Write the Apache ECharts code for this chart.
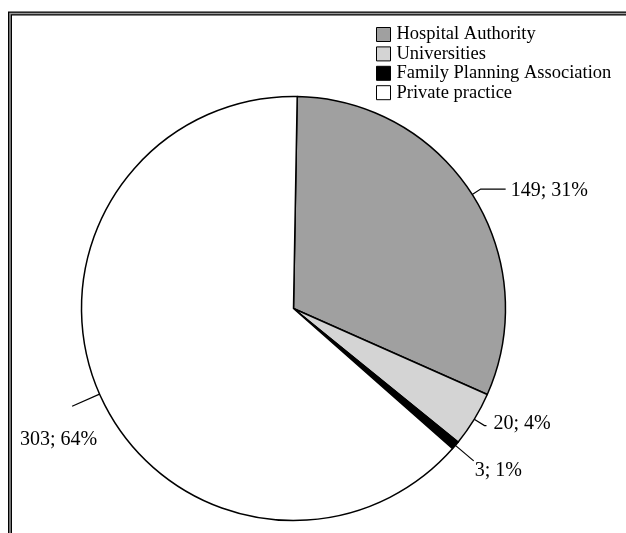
<!DOCTYPE html>
<html>
  <head>
    <meta charset="UTF-8">
    <title>Pie</title>
    <script src="https://cdn.jsdelivr.net/npm/echarts@6/dist/echarts.min.js"></script>
    <style type="text/css">
      * {margin: 0; padding: 0;}
      html, body {background: #fff;}
    </style>
  </head>
  <body>
    <div id="chart" style="width:626px;height:533px"></div>

    <script type="text/javascript">
      var categories = ['Hospital Authority', 'Universities', 'Family Planning Association', 'Private practice'];
      var counts = [149, 20, 3, 303];
      var percents = [31, 4, 1, 64];

      var colors = ['#a0a0a0', '#d4d4d4', '#000000', '#ffffff'];
      // label line length per slice (radial part, horizontal part)
      var lineLen = [[10, 25], [12, 2], [24, 0], [30, 0]];
      // small nudges of the label text, like in the original
      var labelShift = [[0, 2], [2, -2], [-4, 10], [30, 34]];

      var chart = echarts.init(document.getElementById('chart'));

      var data = [];
      for (var i = 0; i < categories.length; i++) {
        data.push({
          name: categories[i],
          value: counts[i],
          pct: percents[i],
          itemStyle: {color: colors[i]},
          labelLine: {length: lineLen[i][0], length2: lineLen[i][1]}
        });
      }

      var option = {
        backgroundColor: '#fff',
        animation: false,
        legend: {
          orient: 'vertical',
          left: 371,
          top: 20,
          itemWidth: 14,
          itemHeight: 14,
          itemGap: 0.4,
          icon: 'rect',
          selectedMode: false,
          itemStyle: {borderColor: '#000', borderWidth: 1},
          textStyle: {fontFamily: 'Liberation Serif', fontSize: 18.5, color: '#000', padding: [0, 0, 0, 1]},
          data: categories
        },
        graphic: [
          {type: 'polyline', silent: true, shape: {points: [[10, 533], [10, 13.5], [626, 13.5]]},
           style: {fill: null, stroke: '#000', lineWidth: 4}},
          {type: 'polyline', silent: true, shape: {points: [[10, 533], [10, 13.5], [626, 13.5]]},
           style: {fill: null, stroke: '#9a9a9a', lineWidth: 1.5}}
        ],
        series: [
          {
            type: 'pie',
            center: [293.5, 308.5],
            radius: 212,
            startAngle: 89,
            clockwise: true,
            avoidLabelOverlap: false,
            emphasis: {disabled: true},
            itemStyle: {borderColor: '#000', borderWidth: 1.5},
            label: {
              show: true,
              position: 'outside',
              fontFamily: 'Liberation Serif',
              fontSize: 20,
              color: '#000',
              formatter: function (p) { return p.value + '; ' + p.data.pct + '%'; }
            },
            labelLine: {show: true, lineStyle: {color: '#000', width: 1.2}},
            labelLayout: function (p) {
              return {dx: labelShift[p.dataIndex][0], dy: labelShift[p.dataIndex][1]};
            },
            data: data
          }
        ]
      };

      chart.setOption(option);
    </script>
  </body>
</html>
